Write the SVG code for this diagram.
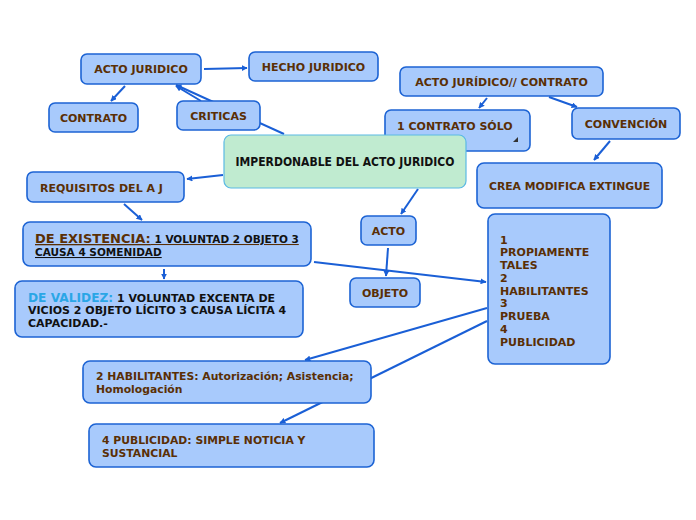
<svg xmlns="http://www.w3.org/2000/svg" width="696" height="520" viewBox="0 0 696 520">
<style>
.n{fill:#a8cafc;stroke:#1c63d4;stroke-width:1.6}
.c{fill:#c0ebd0;stroke:#5ab9e4;stroke-width:1.2}
.t{font-family:"DejaVu Sans",Verdana,sans-serif;font-weight:bold;font-size:11px;fill:#5a2f05}
.s{font-size:10.8px}
.k{fill:#111}
.e{stroke:#1a5fd6;stroke-width:2;fill:none}
</style>
<defs>
<marker id="a" viewBox="0 0 10 10" refX="9" refY="5" markerWidth="6" markerHeight="6" orient="auto" markerUnits="userSpaceOnUse">
<path d="M0,0L10,5L0,10z" fill="#1a5fd6"/>
</marker>
</defs>
<rect width="696" height="520" fill="#fff"/>
<g id="connectors">
<path class="e" d="M204,69L247,68" marker-end="url(#a)"/>
<path class="e" d="M125,86L111,101" marker-end="url(#a)"/>
<path class="e" d="M284,134L176,85" marker-end="url(#a)"/>
<path class="e" d="M201,101L176,86" marker-end="url(#a)"/>
<path class="e" d="M487,98L479,108" marker-end="url(#a)"/>
<path class="e" d="M549,97L577,107" marker-end="url(#a)"/>
<path class="e" d="M610,141L594,160" marker-end="url(#a)"/>
<path class="e" d="M223,175L187,179" marker-end="url(#a)"/>
<path class="e" d="M124,204L142,220" marker-end="url(#a)"/>
<path class="e" d="M418,189L401,214" marker-end="url(#a)"/>
<path class="e" d="M388,248L386,276" marker-end="url(#a)"/>
<path class="e" d="M314,262L486,282" marker-end="url(#a)"/>
<path class="e" d="M164,269L164,279" marker-end="url(#a)"/>
<path class="e" d="M487,308L305,360" marker-end="url(#a)"/>
<path class="e" d="M487,321L280,423" marker-end="url(#a)"/>
</g>
<g id="acto-juridico"><rect class="n" x="81" y="54" width="120" height="30" rx="6"/><text class="t" x="141" y="73" text-anchor="middle">ACTO JURIDICO</text></g>
<g id="hecho-juridico"><rect class="n" x="249" y="52" width="129" height="29" rx="6"/><text class="t" x="313.5" y="71" text-anchor="middle">HECHO JURIDICO</text></g>
<g id="contrato"><rect class="n" x="49" y="103" width="89" height="29" rx="6"/><text class="t" x="93.5" y="122" text-anchor="middle">CONTRATO</text></g>
<g id="criticas"><rect class="n" x="177" y="101" width="83" height="29" rx="6"/><text class="t" x="218.5" y="120" text-anchor="middle">CRITICAS</text></g>
<g id="acto-contrato"><rect class="n" x="400" y="67" width="203" height="29" rx="6"/><text class="t" x="501.5" y="86" text-anchor="middle">ACTO JURÍDICO// CONTRATO</text></g>
<g id="contrato-solo"><rect class="n" x="385" y="110" width="145" height="41" rx="6"/><text class="t" x="397" y="130">1 CONTRATO SÓLO</text><path d="M518,137L518,142L513,142z" fill="#333"/></g>
<g id="convencion"><rect class="n" x="572" y="108" width="108" height="31" rx="6"/><text class="t" x="626" y="128" text-anchor="middle">CONVENCIÓN</text></g>
<g id="center"><rect class="c" x="224" y="135" width="242" height="53" rx="7"/><text class="t k" x="345" y="166" text-anchor="middle" style="font-size:12px;font-stretch:condensed;font-family:'DejaVu Sans Condensed','DejaVu Sans',sans-serif">IMPERDONABLE DEL ACTO JURIDICO</text></g>
<g id="requisitos"><rect class="n" x="27" y="172" width="157" height="30" rx="6"/><text class="t" x="40" y="192">REQUISITOS DEL A J</text></g>
<g id="crea"><rect class="n" x="477" y="163" width="185" height="45" rx="7"/><text class="t s" x="489" y="190">CREA MODIFICA EXTINGUE</text></g>
<g id="existencia"><rect class="n" x="23" y="222" width="288" height="44" rx="7"/>
<text class="t" x="35" y="243" text-decoration="underline"><tspan style="font-size:13px">DE EXISTENCIA:</tspan><tspan style="fill:#111;font-size:10.5px"> 1 VOLUNTAD 2 OBJETO 3 </tspan></text>
<text class="t" x="35" y="256" text-decoration="underline" style="fill:#111;font-size:10.5px">CAUSA 4 SOMENIDAD </text></g>
<g id="acto"><rect class="n" x="361" y="216" width="55" height="29" rx="6"/><text class="t" x="388.5" y="235" text-anchor="middle">ACTO</text></g>
<g id="objeto"><rect class="n" x="350" y="278" width="70" height="29" rx="6"/><text class="t" x="385" y="297" text-anchor="middle">OBJETO</text></g>
<g id="validez"><rect class="n" x="15" y="281" width="288" height="56" rx="7"/>
<text class="t" x="28" y="302" style="fill:#111"><tspan style="font-size:12.2px;fill:#2aa6e6">DE VALIDEZ:</tspan> 1 VOLUNTAD EXCENTA DE</text>
<text class="t" x="28" y="314" style="fill:#111">VICIOS 2 OBJETO LÍCITO 3 CAUSA LÍCITA 4</text>
<text class="t" x="28" y="327" style="fill:#111">CAPACIDAD.-</text></g>
<g id="lista"><rect class="n" x="488" y="214" width="122" height="150" rx="7"/>
<text class="t" x="500" y="244">1</text><text class="t" x="500" y="256">PROPIAMENTE</text><text class="t" x="500" y="269">TALES</text><text class="t" x="500" y="282">2</text><text class="t" x="500" y="295">HABILITANTES</text><text class="t" x="500" y="307">3</text><text class="t" x="500" y="320">PRUEBA</text><text class="t" x="500" y="333">4</text><text class="t" x="500" y="346">PUBLICIDAD</text></g>
<g id="habilitantes"><rect class="n" x="83" y="361" width="288" height="42" rx="7"/><text class="t s" x="96" y="380">2 HABILITANTES: Autorización; Asistencia;</text><text class="t s" x="96" y="393">Homologación</text></g>
<g id="publicidad"><rect class="n" x="89" y="424" width="285" height="43" rx="7"/><text class="t s" x="102" y="444">4 PUBLICIDAD: SIMPLE NOTICIA Y</text><text class="t s" x="102" y="457">SUSTANCIAL</text></g>
</svg>
